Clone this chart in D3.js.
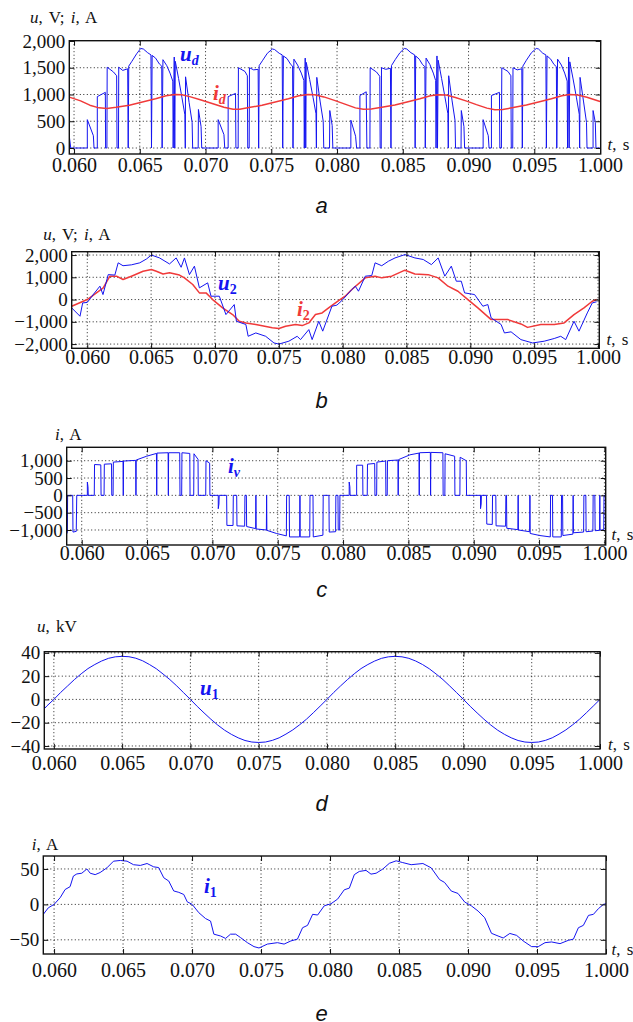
<!DOCTYPE html>
<html>
<head>
<meta charset="utf-8">
<script src="https://cdn.jsdelivr.net/npm/d3@7"></script>
<style>
  body { margin: 0; background: #fff; }
  text { font-family: "Liberation Serif", "Times New Roman", serif; }
</style>
</head>
<body>
<div id="chart"></div>
<script>
// time axis, shared by all five panels
const xTicks = [0.060, 0.065, 0.070, 0.075, 0.080, 0.085, 0.090, 0.095, 0.100];
const xTickLabels = ["0.060", "0.065", "0.070", "0.075", "0.080", "0.085", "0.090", "0.095", "1.000"];

// y ticks of each panel
const yTicksA = [0, 500, 1000, 1500, 2000];
const yTicksB = [-2000, -1000, 0, 1000, 2000];
const yTicksC = [-1000, -500, 0, 500, 1000];
const yTicksD = [-40, -20, 0, 20, 40];
const yTicksE = [-50, 0, 50];

// a: rectified voltage u_d (V), [t, value]
const udPoints = [
  [0.05964,220],[0.05975,0],
  [0.06101,0],[0.06101,530],[0.06147,230],[0.06152,0],[0.06177,0],[0.06177,960],[0.06238,1040],[0.06240,0],[0.06250,0],[0.06252,1510],[0.06300,1420],[0.06324,1350],[0.06327,0],[0.06338,0],[0.06340,1510],[0.06370,1450],[0.06408,1480],[0.06412,0],[0.06416,1530],[0.06440,1620],[0.06476,1760],[0.06507,1860],[0.06527,1850],[0.06560,1780],[0.06585,1740],[0.06589,0],[0.06594,1730],[0.06620,1680],[0.06649,1570],[0.06667,1530],[0.06670,0],[0.06676,1650],[0.06705,1540],[0.06730,1400],[0.06751,1250],[0.06754,0],[0.06762,1700],[0.06766,0],[0.06770,1620],[0.06795,1300],[0.06820,950],[0.06843,620],[0.06846,0],[0.06848,1330],[0.06875,850],[0.06898,480],[0.06902,0],[0.06944,0],[0.06946,720],[0.06966,400],[0.06971,0],
  [0.07096,0],[0.07096,530],[0.07140,250],[0.07146,0],[0.07172,0],[0.07172,960],[0.07228,1020],[0.07231,0],[0.07248,0],[0.07250,1500],[0.07300,1430],[0.07318,1350],[0.07321,0],[0.07332,0],[0.07334,1500],[0.07366,1460],[0.07400,1470],[0.07404,0],[0.07408,1540],[0.07435,1640],[0.07470,1770],[0.07508,1850],[0.07525,1840],[0.07560,1770],[0.07583,1740],[0.07587,0],[0.07592,1720],[0.07620,1670],[0.07648,1560],[0.07662,1530],[0.07665,0],[0.07672,1660],[0.07700,1550],[0.07728,1400],[0.07748,1260],[0.07751,0],[0.07758,1680],[0.07762,0],[0.07766,1600],[0.07792,1280],[0.07818,940],[0.07840,640],[0.07843,0],[0.07846,1320],[0.07872,860],[0.07895,500],[0.07899,0],[0.07943,0],[0.07945,700],[0.07963,420],[0.07968,0],
  [0.08105,0],[0.08105,520],[0.08141,220],[0.08149,0],[0.08174,0],[0.08174,980],[0.08222,1050],[0.08227,0],[0.08250,0],[0.08252,1500],[0.08300,1420],[0.08325,1340],[0.08328,0],[0.08336,0],[0.08338,1500],[0.08370,1470],[0.08406,1490],[0.08410,0],[0.08414,1540],[0.08442,1650],[0.08478,1780],[0.08512,1860],[0.08530,1850],[0.08562,1780],[0.08590,1740],[0.08594,0],[0.08598,1720],[0.08625,1660],[0.08650,1560],[0.08668,1520],[0.08671,0],[0.08677,1680],[0.08706,1560],[0.08732,1400],[0.08750,1260],[0.08753,0],[0.08760,1720],[0.08764,0],[0.08769,1640],[0.08795,1300],[0.08820,960],[0.08843,640],[0.08846,0],[0.08849,1350],[0.08875,880],[0.08897,520],[0.08901,0],[0.08943,0],[0.08945,700],[0.08965,400],[0.08970,0],
  [0.09111,0],[0.09111,530],[0.09150,230],[0.09156,0],[0.09174,0],[0.09174,980],[0.09235,1040],[0.09238,0],[0.09250,0],[0.09253,1500],[0.09300,1430],[0.09322,1350],[0.09325,0],[0.09336,0],[0.09338,1500],[0.09370,1460],[0.09405,1480],[0.09409,0],[0.09413,1530],[0.09440,1640],[0.09478,1780],[0.09515,1860],[0.09532,1850],[0.09565,1770],[0.09588,1740],[0.09592,0],[0.09597,1720],[0.09625,1660],[0.09650,1560],[0.09668,1520],[0.09671,0],[0.09677,1660],[0.09706,1550],[0.09731,1400],[0.09750,1250],[0.09753,0],[0.09761,1700],[0.09765,0],[0.09770,1610],[0.09795,1290],[0.09820,950],[0.09842,630],[0.09845,0],[0.09848,1320],[0.09875,860],[0.09897,480],[0.09901,0],[0.09947,0],[0.09947,700],[0.09964,480],[0.09969,0],[0.10005,0]
];

// a: rectified current i_d (A)
const idPoints = [
  [0.05964,950],[0.0605,880],[0.0612,800],[0.0619,750],[0.0625,740],[0.0632,760],[0.0642,800],[0.0652,860],[0.0662,920],[0.0670,975],[0.0677,1000],[0.0682,995],[0.0688,960],[0.0696,900],
  [0.0705,830],[0.0714,760],[0.0721,725],[0.0726,725],[0.0733,755],[0.0743,800],[0.0753,860],[0.0763,920],[0.0771,975],[0.0778,1000],[0.0783,995],[0.0790,955],[0.0798,890],
  [0.0806,820],[0.0814,750],[0.0820,725],[0.0826,730],[0.0834,760],[0.0844,805],[0.0854,865],[0.0863,920],[0.0871,975],[0.0877,995],[0.0883,990],[0.0890,945],[0.0898,880],
  [0.0906,810],[0.0914,745],[0.0920,715],[0.0926,720],[0.0934,755],[0.0944,805],[0.0954,865],[0.0963,920],[0.0971,975],[0.0977,1000],[0.0983,990],[0.0990,950],[0.1000,870]
];

// b: secondary voltage u_2 (V)
const u2Points = [
  [0.05878,-375],[0.05943,-750],[0.05964,-150],[0.06000,-130],[0.06050,250],[0.06099,600],[0.06123,225],[0.06164,1120],[0.06216,1100],[0.06242,1650],[0.06280,1520],[0.06346,1560],[0.06411,1650],[0.06463,1820],[0.06502,2000],[0.06566,1870],[0.06644,1600],[0.06696,1870],[0.06735,1450],[0.06761,1870],[0.06800,1120],[0.06839,1500],[0.06878,525],[0.06943,750],[0.06969,150],[0.07034,150],[0.07086,-675],[0.07151,-225],[0.07168,-975],[0.07242,-1120],[0.07260,-1650],[0.07320,-1500],[0.07397,-1650],[0.07462,-1950],[0.07501,-2000],[0.07579,-1870],[0.07644,-1650],[0.07670,-1800],[0.07735,-1350],[0.07761,-1800],[0.07813,-975],[0.07844,-1420],[0.07916,-300],[0.07955,-250],[0.07994,-45],
  [0.08072,450],[0.08099,600],[0.08124,375],[0.08177,1050],[0.08228,1080],[0.08254,1650],[0.08306,1520],[0.08358,1720],[0.08410,1870],[0.08488,2020],[0.08566,1870],[0.08631,1800],[0.08695,1570],[0.08748,1870],[0.08800,1050],[0.08851,1500],[0.08890,825],[0.08929,825],[0.08955,300],[0.09033,225],[0.09098,-300],[0.09137,-225],[0.09163,-825],[0.09241,-1120],[0.09267,-1500],[0.09319,-1450],[0.09396,-1800],[0.09488,-1950],[0.09579,-1870],[0.09657,-1750],[0.09708,-1650],[0.09747,-1800],[0.09812,-975],[0.09851,-1420],[0.09916,-600],[0.09955,-150],[0.09989,-100]
];

// b: secondary current i_2 (A)
const i2Points = [
  [0.05878,-300],[0.06000,0],[0.06125,525],[0.06177,1050],[0.06229,1050],[0.06280,900],[0.06346,1050],[0.06437,1270],[0.06502,1350],[0.06541,1270],[0.06593,1150],[0.06644,1200],[0.06722,1100],[0.06761,975],[0.06826,675],[0.06878,300],[0.06930,300],[0.06982,0],[0.07060,-375],[0.07138,-675],[0.07190,-975],[0.07242,-1050],[0.07320,-1120],[0.07449,-1270],[0.07501,-1300],[0.07553,-1200],[0.07631,-1120],[0.07683,-1170],[0.07735,-1050],[0.07787,-675],[0.07839,-600],[0.07890,-375],[0.07968,-45],
  [0.08020,150],[0.08072,450],[0.08177,975],[0.08254,1050],[0.08306,975],[0.08384,1050],[0.08488,1320],[0.08566,1150],[0.08670,1120],[0.08748,975],[0.08825,600],[0.08903,375],[0.08981,0],[0.09059,-375],[0.09163,-900],[0.09293,-900],[0.09396,-1095],[0.09448,-1250],[0.09552,-1120],[0.09657,-1120],[0.09734,-1050],[0.09812,-675],[0.09890,-375],[0.09955,-75],[0.09989,0]
];

// c: valve current i_v (A)
const ivPoints = [
  [0.05885,-1110],[0.05890,-1060],[0.05892,0],[0.05931,0],[0.05933,-1060],[0.05958,-1040],[0.05962,0],
  [0.06043,0],[0.06043,385],[0.06048,250],[0.06050,0],[0.06096,0],[0.06098,890],[0.06146,880],[0.06148,0],[0.06171,0],[0.06173,900],[0.06228,910],[0.06230,0],[0.06240,0],[0.06242,960],[0.06316,980],[0.06318,0],[0.06320,990],[0.06413,1010],[0.06415,0],[0.06417,1020],[0.06497,1130],[0.06572,1210],[0.06574,0],[0.06576,1220],[0.06661,1230],[0.06663,0],[0.06665,1230],[0.06750,1230],[0.06752,0],[0.06765,0],[0.06767,1230],[0.06827,1210],[0.06829,0],[0.06857,0],[0.06859,1200],[0.06890,1040],[0.06892,0],[0.06949,0],[0.06951,1000],[0.06979,930],[0.06981,0],
  [0.07045,0],[0.07045,-385],[0.07050,-250],[0.07052,0],[0.07109,0],[0.07111,-867],[0.07158,-870],[0.07160,0],[0.07186,0],[0.07188,-880],[0.07247,-890],[0.07249,0],[0.07260,0],[0.07262,-900],[0.07331,-960],[0.07333,0],[0.07335,-970],[0.07413,-1000],[0.07415,0],[0.07417,-1010],[0.07490,-1100],[0.07566,-1170],[0.07568,0],[0.07588,0],[0.07590,-1200],[0.07668,-1200],[0.07670,0],[0.07672,-1200],[0.07745,-1200],[0.07747,0],[0.07770,0],[0.07772,-1200],[0.07846,-1150],[0.07848,0],[0.07892,0],[0.07894,-1060],[0.07943,-1050],[0.07945,0],[0.07961,0],[0.07963,-1000],[0.07974,-1000],[0.07976,0],
  [0.08047,0],[0.08047,385],[0.08052,250],[0.08054,0],[0.08104,0],[0.08104,870],[0.08150,870],[0.08152,0],[0.08185,0],[0.08187,900],[0.08242,920],[0.08244,0],[0.08257,0],[0.08259,960],[0.08326,990],[0.08328,0],[0.08338,0],[0.08340,1000],[0.08420,1020],[0.08422,0],[0.08424,1030],[0.08512,1170],[0.08581,1220],[0.08583,0],[0.08585,1230],[0.08668,1240],[0.08670,0],[0.08672,1240],[0.08764,1230],[0.08766,0],[0.08779,0],[0.08781,1200],[0.08854,1130],[0.08856,0],[0.08894,0],[0.08896,1100],[0.08943,1000],[0.08945,0],
  [0.09052,0],[0.09052,-385],[0.09057,-250],[0.09059,0],[0.09098,0],[0.09100,-830],[0.09142,-840],[0.09144,0],[0.09169,0],[0.09171,-880],[0.09244,-890],[0.09246,0],[0.09251,0],[0.09253,-950],[0.09338,-990],[0.09340,0],[0.09342,-1000],[0.09428,-1050],[0.09430,0],[0.09432,-1100],[0.09506,-1160],[0.09586,-1200],[0.09588,0],[0.09603,0],[0.09605,-1200],[0.09670,-1200],[0.09672,0],[0.09680,0],[0.09682,-1160],[0.09759,-1120],[0.09761,0],[0.09763,-1080],[0.09841,-1060],[0.09843,0],[0.09858,0],[0.09860,-1050],[0.09912,-1030],[0.09914,0],[0.09927,0],[0.09929,-1020],[0.09963,-1010],[0.09965,0],[0.09967,-1000],[0.09995,-1000],[0.09997,0],[0.1001,0]
];

// d: primary voltage u_1 (kV)
const u1Points = [
  [0.0593,-8],[0.0595,-5.5],[0.0600,0],[0.0605,6],[0.0610,11.5],[0.0615,17],[0.0620,22],[0.0625,26.5],[0.0630,30],[0.0635,33],[0.0640,35.3],[0.0645,36.6],[0.0650,37],[0.0655,36.7],[0.0660,35.4],[0.0665,33.2],[0.0670,30],[0.0675,26.4],[0.0680,21.8],[0.0685,17],[0.0690,11.6],[0.0695,5.8],
  [0.0700,0],[0.0705,-6],[0.0710,-11.6],[0.0715,-17],[0.0720,-22],[0.0725,-26.4],[0.0730,-30],[0.0735,-33],[0.0740,-35.3],[0.0745,-36.6],[0.0750,-37],[0.0755,-36.6],[0.0760,-35.2],[0.0765,-33],[0.0770,-29.8],[0.0775,-26.2],[0.0780,-21.8],[0.0785,-17],[0.0790,-11.5],[0.0795,-5.8],
  [0.0800,0],[0.0805,6],[0.0810,11.6],[0.0815,17],[0.0820,22],[0.0825,26.5],[0.0830,30],[0.0835,33],[0.0840,35.3],[0.0845,36.6],[0.0850,37],[0.0855,36.6],[0.0860,35.3],[0.0865,33],[0.0870,30],[0.0875,26.3],[0.0880,21.8],[0.0885,17],[0.0890,11.5],[0.0895,5.8],
  [0.0900,0],[0.0905,-6],[0.0910,-11.6],[0.0915,-17],[0.0920,-22],[0.0925,-26.4],[0.0930,-30],[0.0935,-33],[0.0940,-35.3],[0.0945,-36.6],[0.0950,-37],[0.0955,-36.6],[0.0960,-35.2],[0.0965,-33],[0.0970,-29.8],[0.0975,-26.2],[0.0980,-21.8],[0.0985,-17],[0.0990,-11.5],[0.0995,-5.8],[0.1000,0]
];

// e: primary current i_1 (A)
const i1Points = [
  [0.05922,-14],[0.05959,-4.7],[0.06000,0],[0.06044,9.4],[0.06080,21],[0.06116,25],[0.06140,40],[0.06165,43],[0.06201,44],[0.06238,50],[0.06262,44],[0.06298,42],[0.06334,45],[0.06383,51.6],[0.06431,61],[0.06480,62],[0.06529,61],[0.06576,56],[0.06625,55],[0.06674,57.7],[0.06722,53],[0.06758,52],[0.06795,37.6],[0.06831,33],[0.06867,19],[0.06904,17],[0.06940,14],[0.06965,3.7],
  [0.07001,0],[0.07049,-11.7],[0.07098,-20],[0.07134,-23.5],[0.07158,-42],[0.07207,-44.6],[0.07243,-48],[0.07279,-42],[0.07316,-42],[0.07352,-46.9],[0.07401,-54],[0.07449,-59.6],[0.07485,-61.5],[0.07546,-56],[0.07619,-54],[0.07667,-56],[0.07716,-51.6],[0.07764,-49],[0.07801,-32.9],[0.07837,-29.6],[0.07874,-14],[0.07910,-15],[0.07958,-2],
  [0.08007,0.9],[0.08055,7.5],[0.08103,20.6],[0.08140,23],[0.08176,42],[0.08212,46.5],[0.08261,48],[0.08297,42.7],[0.08334,44],[0.08382,49.8],[0.08430,58],[0.08479,61.5],[0.08527,59],[0.08588,56],[0.08673,57.7],[0.08733,51.6],[0.08794,35],[0.08830,31],[0.08879,18.8],[0.08927,15.5],[0.08976,3.3],
  [0.09024,-2],[0.09073,-9.4],[0.09121,-18.8],[0.09170,-40.8],[0.09218,-44.6],[0.09255,-47.4],[0.09303,-41],[0.09352,-43.7],[0.09400,-51.6],[0.09461,-59.6],[0.09509,-59.6],[0.09558,-54],[0.09606,-53],[0.09667,-55.4],[0.09727,-50.7],[0.09764,-49],[0.09800,-32.9],[0.09836,-29.6],[0.09873,-15.5],[0.09909,-14],[0.09945,-6],[0.09982,0],[0.10000,1]
];

const blue = "#1414f0";
const red = "#f03a3a";
const serif = "'Liberation Serif', 'Times New Roman', serif";

const svg = d3.select("#chart").append("svg")
  .attr("width", 633).attr("height", 1022)
  .style("background", "#fff");

// layout of every panel (pixels) and what goes in it
const panels = [
  { name: "a", box: [69.3, 40.7, 600.7, 154], xDom: [0.05964, 0.10005], yDom: [-112, 2005], yTicks: yTicksA, xPad: 3.5,
    series: [{ data: udPoints, color: blue, w: 1 }, { data: idPoints, color: red, w: 1.5 }],
    title: [["u", true], [", V; ", false], ["i", true], [", A", false]], titleAt: [30, 22.7], tAt: [607.5, 150], letterY: 213,
    labels: [{ main: "u", sub: "d", subItalic: true, color: blue, x: 180, y: 60.5 }, { main: "i", sub: "d", subItalic: true, color: red, x: 213, y: 100 }] },
  { name: "b", box: [71.7, 251.7, 599.3, 348.3], xDom: [0.05878, 0.1001], yDom: [-2190, 2150], yTicks: yTicksB, xPad: 1,
    series: [{ data: i2Points, color: red, w: 1.5 }, { data: u2Points, color: blue, w: 1 }],
    title: [["u", true], [", V; ", false], ["i", true], [", A", false]], titleAt: [43.3, 240], tAt: [606.5, 345], letterY: 408,
    labels: [{ main: "u", sub: "2", subItalic: false, color: blue, x: 218, y: 290 }, { main: "i", sub: "2", subItalic: false, color: red, x: 297, y: 316 }] },
  { name: "c", box: [66.7, 447.3, 605.7, 545], xDom: [0.05885, 0.1001], yDom: [-1433, 1387], yTicks: yTicksC, xPad: 1,
    series: [{ data: ivPoints, color: blue, w: 1 }],
    title: [["i", true], [", A", false]], titleAt: [55, 440], tAt: [611.5, 540], letterY: 597,
    labels: [{ main: "i", sub: "v", subItalic: true, color: blue, x: 228, y: 473 }] },
  { name: "d", box: [44.3, 651.7, 600, 749], xDom: [0.0593, 0.1], yDom: [-42.6, 41], yTicks: yTicksD, xPad: 7,
    series: [{ data: u1Points, color: blue, w: 1 }],
    title: [["u", true], [", kV", false]], titleAt: [37, 632], tAt: [608, 750], letterY: 811,
    labels: [{ main: "u", sub: "1", subItalic: false, color: blue, x: 200, y: 695 }] },
  { name: "e", box: [43.3, 856, 606, 954], xDom: [0.05922, 0.1], yDom: [-70, 68.3], yTicks: yTicksE, xPad: 8.5,
    series: [{ data: i1Points, color: blue, w: 1 }],
    title: [["i", true], [", A", false]], titleAt: [31.7, 850], tAt: [611.5, 955], letterY: 1021,
    labels: [{ main: "i", sub: "1", subItalic: false, color: blue, x: 204, y: 893 }] }
];

panels.forEach(drawPanel);

function drawPanel(p) {
  const [L, T, R, B] = p.box;
  const x = d3.scaleLinear().domain(p.xDom).range([L, R]);
  const y = d3.scaleLinear().domain(p.yDom).range([B, T]);
  const g = svg.append("g");

  // clip for the curves
  g.append("clipPath").attr("id", "clip-" + p.name)
    .append("rect").attr("x", L).attr("y", T).attr("width", R - L).attr("height", B - T);

  // dotted grid
  g.append("g").selectAll("line")
    .data(xTicks.filter(t => x(t) > L + 1 && x(t) < R - 1))
    .join("line")
      .attr("x1", d => x(d)).attr("x2", d => x(d)).attr("y1", T).attr("y2", B)
      .attr("stroke", "#222").attr("stroke-width", 1).attr("stroke-dasharray", "1,2.5");
  g.append("g").selectAll("line")
    .data(p.yTicks.filter(v => y(v) > T + 1 && y(v) < B - 1))
    .join("line")
      .attr("x1", L).attr("x2", R).attr("y1", d => y(d)).attr("y2", d => y(d))
      .attr("stroke", "#222").attr("stroke-width", 1).attr("stroke-dasharray", "1,2.5");

  // curves
  const line = d3.line().x(d => x(d[0])).y(d => y(d[1]));
  g.append("g").attr("clip-path", `url(#clip-${p.name})`)
    .selectAll("path")
    .data(p.series)
    .join("path")
      .attr("fill", "none")
      .attr("stroke", d => d.color)
      .attr("stroke-width", d => d.w)
      .attr("stroke-linejoin", "round")
      .attr("d", d => line(d.data));

  // axes with inward ticks
  const xAx = g.append("g").attr("transform", `translate(0,${B})`)
    .call(d3.axisBottom(x).tickValues(xTicks).tickFormat((d, i) => xTickLabels[i]).tickSize(-5).tickPadding(p.xPad))
    .attr("font-family", serif).attr("font-size", 20);
  const yAx = g.append("g").attr("transform", `translate(${L},0)`)
    .call(d3.axisLeft(y).tickValues(p.yTicks).tickFormat(d3.format(",")).tickSize(-5).tickPadding(4))
    .attr("font-family", serif).attr("font-size", 19);
  g.append("g").attr("transform", `translate(0,${T})`)
    .call(d3.axisTop(x).tickValues(xTicks).tickFormat("").tickSize(-5));
  g.append("g").attr("transform", `translate(${R},0)`)
    .call(d3.axisRight(y).tickValues(p.yTicks).tickFormat("").tickSize(-5));

  g.selectAll(".domain").remove();
  g.selectAll(".tick line").attr("stroke", "#111").attr("stroke-width", 1);
  xAx.selectAll("text").attr("fill", "#111").style("font-family", serif).style("font-size", "20px");
  yAx.selectAll("text").attr("fill", "#111").style("font-family", serif).style("font-size", "19px");

  // frame
  g.append("rect").attr("x", L).attr("y", T).attr("width", R - L).attr("height", B - T)
    .attr("fill", "none").attr("stroke", "#111").attr("stroke-width", 1.4);

  // y title
  const tt = g.append("text").attr("x", p.titleAt[0]).attr("y", p.titleAt[1])
    .attr("fill", "#111").style("font-size", "17px").style("word-spacing", "2px");
  p.title.forEach(([s, it]) => tt.append("tspan").text(s).style("font-style", it ? "italic" : "normal"));

  // t, s
  const ts = g.append("text").attr("x", p.tAt[0]).attr("y", p.tAt[1])
    .attr("fill", "#111").style("font-size", "17px").style("word-spacing", "2px");
  ts.append("tspan").text("t").style("font-style", "italic");
  ts.append("tspan").text(", s");

  // series labels
  p.labels.forEach(l => {
    const t = g.append("text").attr("x", l.x).attr("y", l.y).attr("fill", l.color)
      .style("font-weight", "bold").style("font-size", "21px");
    t.append("tspan").text(l.main).style("font-style", "italic");
    t.append("tspan").text(l.sub).attr("dy", 4).style("font-size", "14px")
      .style("font-style", l.subItalic ? "italic" : "normal");
  });

  // panel letter
  g.append("text").attr("x", 321.7).attr("y", p.letterY).attr("text-anchor", "middle")
    .attr("fill", "#111")
    .style("font-family", "'Liberation Sans', Arial, sans-serif")
    .style("font-style", "italic").style("font-size", "22px")
    .text(p.name);
}
</script>
</body>
</html>
